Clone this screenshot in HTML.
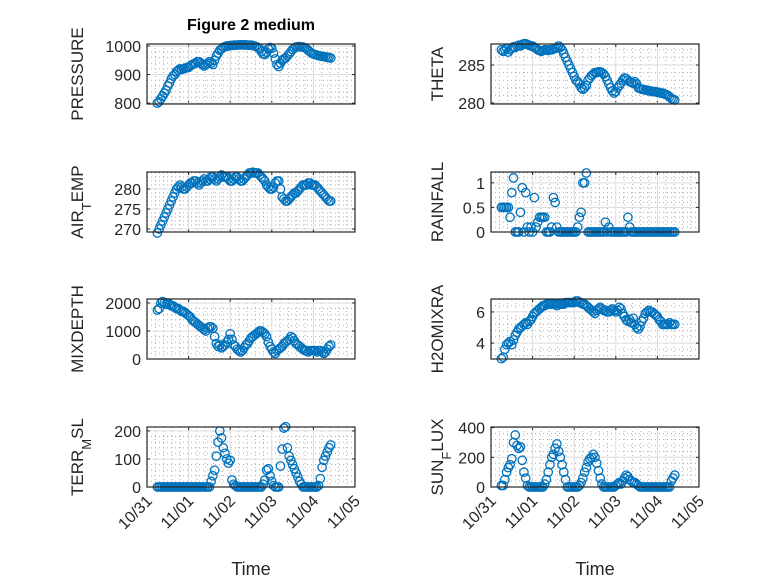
<!DOCTYPE html>
<html><head><meta charset="utf-8"><style>
html,body{margin:0;padding:0;background:#fff;}
svg{display:block;font-family:"Liberation Sans","DejaVu Sans",sans-serif;}
</style></head><body>
<svg id="fig" width="778" height="583" viewBox="0 0 778 583">
<rect width="778" height="583" fill="#fff"/>
<text x="251" y="30" text-anchor="middle" font-size="16" font-weight="bold" fill="#000">Figure 2 medium</text>
</svg>
<script>
// time in hours since 10/31 00:00, hourly from h6 to h106
const hourStart = 6;
const pressure = [800,805,815,825,835,845,860,870,885,895,900,910,915,920,918,920,922,925,925,930,935,938,940,945,945,940,935,930,935,940,945,940,935,950,965,975,985,990,995,998,1000,1000,1002,1002,1003,1003,1003,1004,1004,1004,1004,1004,1003,1003,1003,1002,1000,998,995,990,980,972,970,978,990,995,992,975,955,935,928,940,950,955,958,965,972,980,988,993,996,998,998,997,996,994,990,985,980,975,972,970,968,966,965,964,963,962,960,960,958];
const airTemp = [269,270,271,272,273,274,275,276,277,278,279,280,280.5,281,280.5,280,280,280.5,281,281.5,281.5,282,282,281.5,281,281.5,282,282.5,282,282,282.5,283,283,282.5,282,282.5,283,283.5,283,283,283,282.5,282,282,282.5,283,283,282.5,282,282,282.5,283,283.5,284,284,284.2,284,284,284,283.5,283,282.5,282,281,280.5,280,280,280.5,281.5,282,282,280,278,277.5,277,277,277.5,278,278.5,279,279,279.5,280,280.5,281,281,281,281.5,281.5,281,281,281,280.5,280,279.5,279,278.5,278,277.5,277,277];
const mixDepth = [1750,1800,2000,2050,2000,1950,2000,1950,1900,1900,1850,1800,1800,1750,1700,1700,1650,1600,1550,1500,1400,1350,1300,1250,1200,1150,1100,1050,1000,1100,1150,1150,1100,800,550,450,500,400,450,500,600,700,900,700,500,450,350,300,250,300,400,500,550,650,750,800,850,900,950,1000,1000,950,900,800,600,450,350,250,200,300,350,400,450,550,600,650,700,800,750,650,550,500,450,400,350,300,300,250,300,300,300,300,250,300,300,250,200,250,350,450,500];
const terrMsl = [0,0,0,0,0,0,0,0,0,0,0,0,0,0,0,0,0,0,0,0,0,0,0,0,0,0,0,0,0,0,0,20,40,60,110,160,200,175,140,120,100,85,95,25,10,5,0,0,0,0,0,0,0,0,0,0,0,0,0,0,0,10,25,60,65,40,20,5,0,0,0,75,135,210,215,140,110,95,80,65,50,35,20,10,0,0,0,0,0,0,0,0,0,5,30,70,95,110,125,140,150];
const theta = [287,286.8,287,287.2,286.7,287,287.2,287.4,287.3,287.5,287.6,287.5,287.7,287.8,287.8,287.7,287.6,287.5,287.5,287.3,287.2,287,286.9,286.8,286.9,287,287,286.9,287,287,287.1,287.2,287.3,287.5,287.3,287,286.5,286,285.5,285,284.5,284,283.5,283,282.8,282.5,282,281.8,282,282.3,283,283.3,283.6,283.8,284,284,284.1,284.1,284,283.8,283.5,283,282.5,282,281.6,281.3,281.5,282,282.3,282.6,283,283.3,283.2,283,282.8,282.7,282.6,282.8,282.5,282,281.9,281.8,281.8,281.7,281.7,281.6,281.6,281.5,281.5,281.5,281.4,281.4,281.3,281.3,281.2,281.1,281,280.8,280.6,280.5,280.4];
const rainfall = [0.5,0.5,0.5,0.5,0.5,0.3,0.8,1.1,0,0,0,0.4,0.9,0,0.8,0.1,0,0.1,0,0.7,0.1,0.2,0.3,0.3,0.3,0.3,0,0,0,0.1,0.7,0.6,0.1,0,0,0,0,0,0,0,0,0,0,0,0.1,0.3,0.4,1.0,1.0,1.2,0,0,0,0,0,0,0,0,0,0,0.2,0,0.1,0,0,0,0,0,0,0,0,0,0,0.3,0.1,0,0,0,0,0,0,0,0,0,0,0,0,0,0,0,0,0,0,0,0,0,0,0,0,0,0];
const h2oMix = [3.0,3.1,3.6,3.9,4.0,4.1,3.9,4.2,4.5,4.7,4.9,5.0,5.1,5.2,5.3,5.2,5.4,5.5,5.7,5.9,6.0,6.1,6.2,6.3,6.4,6.4,6.5,6.5,6.5,6.5,6.5,6.5,6.4,6.5,6.5,6.5,6.5,6.6,6.6,6.6,6.6,6.6,6.6,6.7,6.7,6.6,6.6,6.5,6.5,6.4,6.3,6.2,6.1,6.0,5.9,6.1,6.2,6.3,6.2,6.1,6.1,6.0,6.0,6.1,6.2,6.1,6.0,6.1,6.3,6.2,5.9,5.7,5.5,5.4,5.5,5.3,5.6,5.2,5.0,4.9,5.1,5.4,5.6,5.9,6.0,6.1,6.0,6.0,5.9,5.8,5.7,5.5,5.4,5.2,5.2,5.2,5.2,5.3,5.2,5.2,5.2];
const sunFlux = [10,10,50,100,130,150,190,300,350,280,260,270,180,100,60,10,0,0,0,0,0,0,0,0,0,20,50,100,150,200,220,260,290,240,200,150,100,50,0,0,0,0,0,0,0,10,30,60,100,130,170,190,200,220,200,160,110,60,20,0,0,0,0,0,0,0,10,20,30,20,40,60,80,70,50,40,30,30,20,10,0,0,0,0,0,0,0,0,0,0,0,0,0,0,0,0,0,0,40,60,80];
const xTickLabels = ["10/31","11/01","11/02","11/03","11/04","11/05"];

const NS = "http://www.w3.org/2000/svg";
const svg = document.getElementById('fig');
function mk(tag, attrs, parent){const e=document.createElementNS(NS,tag);for(const k in attrs)e.setAttribute(k,attrs[k]);(parent||svg).appendChild(e);return e;}

const panels = [
 {name:'pressure', data:pressure, x0:147,x1:355,y0:44,y1:104, ylim:[797,1007], ticks:[800,900,1000], labels:['800','900','1000'], minor:20, label:[['PRESSURE']], bottom:false},
 {name:'theta', data:theta, x0:491,x1:699,y0:44,y1:104, ylim:[279.87,287.76], ticks:[280,285], labels:['280','285'], minor:1, label:[['THETA']], bottom:false},
 {name:'air-temp', data:airTemp, x0:147,x1:355,y0:172,y1:232, ylim:[269.25,284.25], ticks:[270,275,280], labels:['270','275','280'], minor:1, label:[['AIR'],['T','sub'],['EMP']], bottom:false},
 {name:'rainfall', data:rainfall, x0:491,x1:699,y0:172,y1:232, ylim:[0,1.22], ticks:[0,0.5,1], labels:['0','0.5','1'], minor:0.1, label:[['RAINFALL']], bottom:false},
 {name:'mixdepth', data:mixDepth, x0:147,x1:355,y0:299,y1:359, ylim:[0,2143], ticks:[0,1000,2000], labels:['0','1000','2000'], minor:200, label:[['MIXDEPTH']], bottom:false},
 {name:'h2omixra', data:h2oMix, x0:491,x1:699,y0:299,y1:359, ylim:[2.98,6.83], ticks:[4,6], labels:['4','6'], minor:0.4, label:[['H2OMIXRA']], bottom:false},
 {name:'terr-msl', data:terrMsl, x0:147,x1:355,y0:427,y1:487, ylim:[0,214], ticks:[0,100,200], labels:['0','100','200'], minor:20, label:[['TERR'],['M','sub'],['SL']], bottom:true},
 {name:'sun-flux', data:sunFlux, x0:491,x1:699,y0:427,y1:487, ylim:[0,404], ticks:[0,200,400], labels:['0','200','400'], minor:40, label:[['SUN'],['F','sub'],['LUX']], bottom:true},
];

panels.forEach(p=>{
  const g = mk('g',{});
  
  
  const xs = h => p.x0 + (h/24)/5*(p.x1-p.x0);
  const ys = v => p.y1 - (v-p.ylim[0])/(p.ylim[1]-p.ylim[0])*(p.y1-p.y0);
  mk('rect',{x:p.x0,y:p.y0,width:p.x1-p.x0,height:p.y1-p.y0,fill:'#fff'},g);
  for(let h=4.8; h<120; h+=4.8){ if(Math.abs(h/24-Math.round(h/24))<1e-6) continue; const x=xs(h);
    mk('line',{x1:x,x2:x,y1:p.y0,y2:p.y1,stroke:'#b0b0b0','stroke-width':1,'stroke-dasharray':'1 3'},g);}
  for(let v=Math.ceil(p.ylim[0]/p.minor)*p.minor; v<p.ylim[1]; v+=p.minor){ const y=ys(v);
    if(p.ticks.some(t=>Math.abs(t-v)<1e-6)) continue;
    mk('line',{x1:p.x0,x2:p.x1,y1:y,y2:y,stroke:'#b0b0b0','stroke-width':1,'stroke-dasharray':'1 3'},g);}
  xTickLabels.forEach((lab,i)=>{ const x=xs(i*24);
    mk('line',{x1:x,x2:x,y1:p.y0,y2:p.y1,stroke:'#dcdcdc','stroke-width':1},g);
    mk('line',{x1:x,x2:x,y1:p.y1,y2:p.y1-3,stroke:'#262626'},g);
    mk('line',{x1:x,x2:x,y1:p.y0,y2:p.y0+3,stroke:'#262626'},g);
    if(p.bottom){ const tx=x+6, ty=p.y1+15;
      const t = mk('text',{x:tx,y:ty,'text-anchor':'end','font-size':16,fill:'#262626',transform:`rotate(-45 ${tx} ${ty})`},g);
      t.textContent = lab;
      
      
    }
  });
  p.ticks.forEach((v,i)=>{ const y=ys(v);
    mk('line',{x1:p.x0,x2:p.x1,y1:y,y2:y,stroke:'#dcdcdc','stroke-width':1},g);
    mk('line',{x1:p.x0,x2:p.x0+3,y1:y,y2:y,stroke:'#262626'},g);
    mk('line',{x1:p.x1,x2:p.x1-3,y1:y,y2:y,stroke:'#262626'},g);
    const t = mk('text',{x:p.x0-6,y:y+6,'text-anchor':'end','font-size':16,fill:'#262626'},g);
    t.textContent = p.labels[i];
    
    
  });
  p.data.forEach((v,i)=>{ const c = mk('circle',{cx:xs(hourStart+i),cy:ys(v),r:4.2,fill:'none',stroke:'#0072BD','stroke-width':1.3},g);
    
    
  });
  mk('rect',{x:p.x0,y:p.y0,width:p.x1-p.x0,height:p.y1-p.y0,fill:'none',stroke:'#262626','stroke-width':1.2},g);
  const lx = p.x0 - (p.x0<300 ? 64 : 48), ly=(p.y0+p.y1)/2;
  const yl = mk('text',{x:lx,y:ly,'text-anchor':'middle','font-size':17,fill:'#262626',transform:`rotate(-90 ${lx} ${ly})`},g);
  
  
  p.label.forEach(part=>{ const ts=mk('tspan',part[1]==='sub'?{'baseline-shift':'sub','font-size':13}:{},yl); ts.textContent=part[0]; });
  if(p.bottom){ const tl = mk('text',{x:(p.x0+p.x1)/2,y:575,'text-anchor':'middle','font-size':18,fill:'#262626'},g);
    tl.textContent='Time';
    
    
  }
});
</script>
</body></html>
